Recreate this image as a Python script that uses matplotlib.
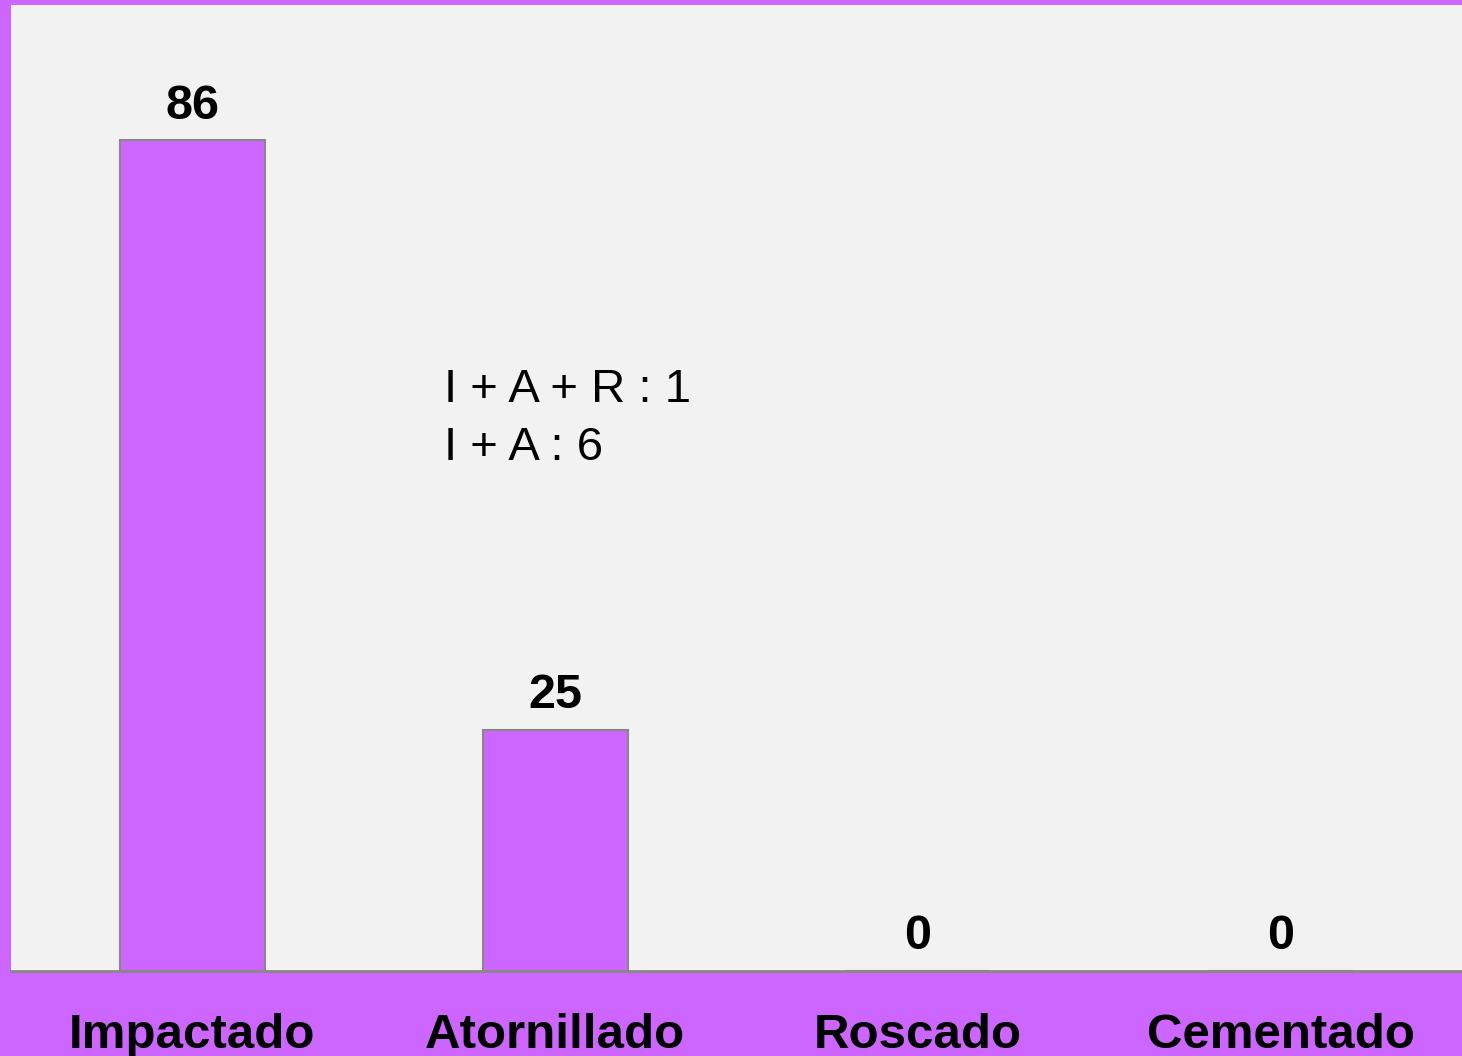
import matplotlib.pyplot as plt

# datos
categorias = ['Impactado', 'Atornillado', 'Roscado', 'Cementado']
valores = [86, 25, 0, 0]
notas = ['I + A + R : 1', 'I + A : 6']

morado = '#CC66FF'
gris = '#888888'

plt.rcParams['font.family'] = ['Liberation Sans', 'DejaVu Sans']

fig = plt.figure(figsize=(14.62, 10.56), dpi=100, facecolor=morado)
ax = fig.add_axes([11 / 1462, 1 - 971 / 1056, 1451 / 1462, 966 / 1056])
ax.set_facecolor('#F2F2F2')

x = range(len(categorias))
barras = ax.bar(x, valores, width=0.4, color=morado, edgecolor=gris, linewidth=1.5)

for xi, v in zip(x, valores):
    ax.annotate(str(v), (xi, v), xytext=(0, 15.5), textcoords='offset points',
                ha='center', va='baseline', fontsize=35, fontweight='bold')

# texto de combinaciones
ax.text(0.695, 58.9, notas[0], fontsize=34, va='baseline', ha='left')
ax.text(0.695, 52.9, notas[1], fontsize=34, va='baseline', ha='left')

ax.set_xlim(-0.5, 3.5)
ax.set_ylim(0, 100)
ax.set_xticks(list(x))
ax.set_xticklabels(categorias, fontsize=35.5, fontweight='bold')
ax.tick_params(axis='x', length=0, pad=30)
ax.set_yticks([])

for s in ['top', 'right', 'left']:
    ax.spines[s].set_visible(False)
ax.spines['bottom'].set_color(gris)
ax.spines['bottom'].set_linewidth(2)

plt.savefig('out.png', dpi=100, facecolor=morado)
